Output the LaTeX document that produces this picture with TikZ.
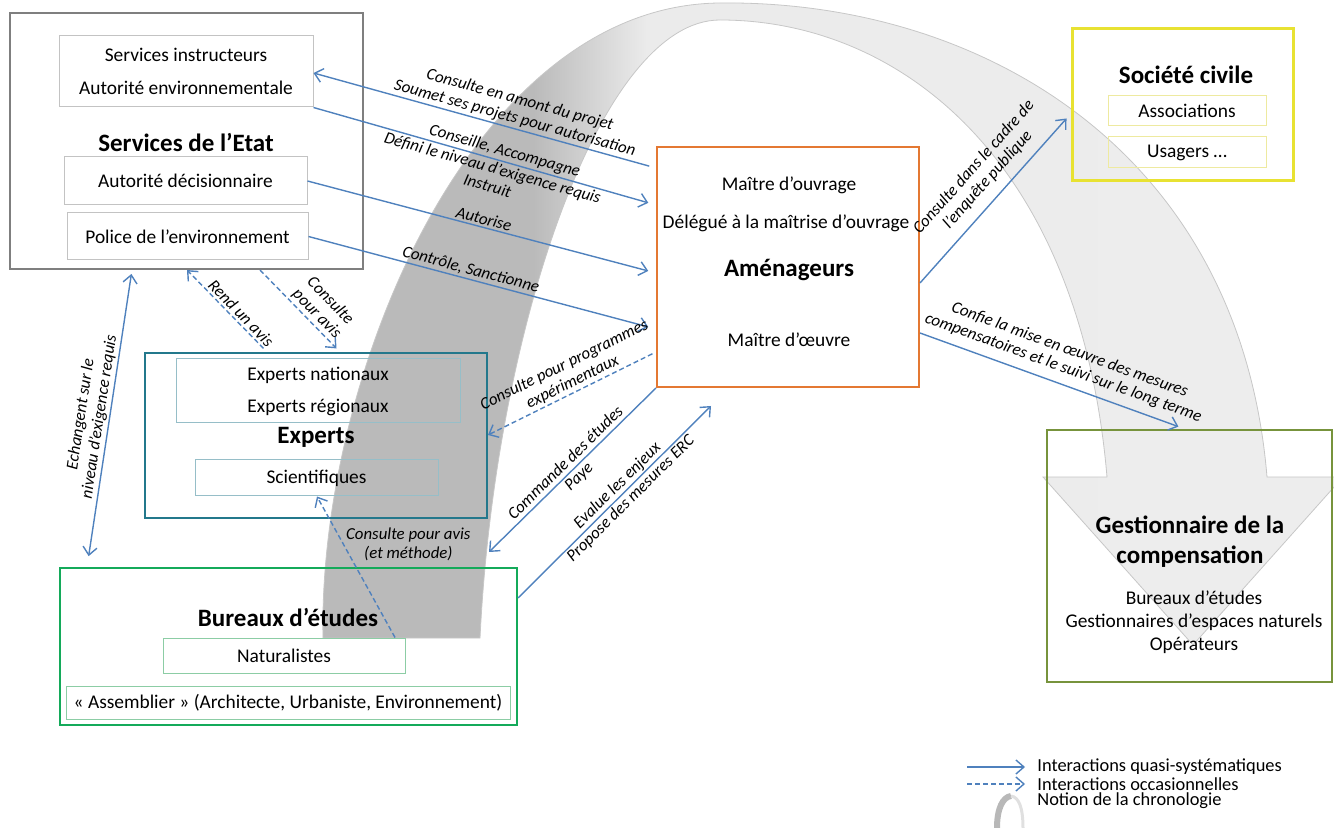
\documentclass[tikz,border=0pt]{standalone}
\usepackage{fontspec}
\setmainfont{Carlito}
\usetikzlibrary{fit}
\usetikzlibrary{arrows.meta}

\definecolor{grisetat}{RGB}{127,127,127}
\definecolor{grisclair}{RGB}{195,195,195}
\definecolor{orangeam}{RGB}{228,120,50}
\definecolor{jaunesoc}{RGB}{232,226,50}
\definecolor{jaunepale}{RGB}{238,234,160}
\definecolor{bleuexp}{RGB}{35,120,140}
\definecolor{bleupale}{RGB}{150,190,200}
\definecolor{vertbur}{RGB}{20,170,90}
\definecolor{vertpale}{RGB}{140,205,165}
\definecolor{vertgest}{RGB}{119,147,60}
\definecolor{bleulien}{RGB}{79,129,189}

\pgfdeclarehorizontalshading{chrono}{100bp}{color(0bp)=(black!27); color(35.5bp)=(black!27); color(41bp)=(black!8); color(100bp)=(black!6)}

\tikzset{
  >={Straight Barb[length=4pt,width=7pt]},
  cadre/.style={draw, line width=1pt, inner sep=0pt},
  sous/.style={draw, line width=0.5pt, inner sep=0pt, align=center,
    font=\fontsize{9.7}{11.6}\selectfont},
  texte/.style={font=\fontsize{9.7}{11.6}\selectfont, align=center},
  titre/.style={font=\fontsize{12.5}{15}\selectfont\bfseries, align=center},
  lien/.style={draw=bleulien, line width=0.7pt, ->},
  occas/.style={lien, dash pattern=on 2.5pt off 1.5pt},
  etiqh/.style={font=\fontsize{8.4}{9.4}\selectfont\itshape, align=center, inner sep=1pt},
  etiq/.style={etiqh, sloped},
}

\begin{document}
\begin{tikzpicture}[x=0.5pt, y=-0.5pt]
\useasboundingbox (0,0) rectangle (1334,828);

% ruban de la chronologie
\begin{scope}
  \clip (0,0) rectangle (1334,828);
  \shadedraw[shading=chrono, draw=black!22, line width=0.4pt]
    (323,638) .. controls (318,380) and (470,5) .. (720,3)
    .. controls (980,0) and (1240,150) .. (1267,477)
    -- (1343,477) -- (1193,645) -- (1043,477) -- (1107,477)
    .. controls (1080,160) and (900,20) .. (720,20)
    .. controls (600,20) and (495,330) .. (480,638) -- cycle;
\end{scope}

% Services de l'Etat
\node[cadre, draw=grisetat, fit={(10,13) (363,269)}] (etat) {};
\node[sous, draw=grisclair, minimum width=127pt, minimum height=35.5pt] (sinst) at (186,71.5) {Services instructeurs\\[4.9pt]Autorité environnementale};
\node[titre] (tetat) at (186,143) {Services de l’Etat};
\node[sous, draw=grisclair, minimum width=121.5pt, minimum height=24pt] (sdec) at (185.5,181) {Autorité décisionnaire};
\node[sous, draw=grisclair, minimum width=120.5pt, minimum height=23.5pt] (spol) at (187.5,236.5) {Police de l’environnement};

% Amenageurs
\node[cadre, draw=orangeam, fit={(657,147) (919,387)}] (amen) {};
\node[texte] (mo) at (789,185) {Maître d’ouvrage};
\node[texte] (dmo) at (786,223) {Délégué à la maîtrise d’ouvrage};
\node[titre] (tamen) at (789,270) {Aménageurs};
\node[texte] (moe) at (789,340) {Maître d’œuvre};

% Societe civile
\node[cadre, draw=jaunesoc, line width=1.5pt, fit={(1072,29) (1293,181)}] (soc) {};
\node[titre] (tsoc) at (1186,75) {Société civile};
\node[sous, draw=jaunepale, minimum width=79pt, minimum height=15pt] (asso) at (1187,111) {Associations};
\node[sous, draw=jaunepale, minimum width=79pt, minimum height=15.5pt] (usag) at (1187,152.5) {Usagers …};

% Experts
\node[cadre, draw=bleuexp, fit={(145,353) (487,518)}] (exp) {};
\node[sous, draw=bleupale, minimum width=142pt, minimum height=32pt] (expnr) at (318,391) {Experts nationaux\\[4.4pt]Experts régionaux};
\node[titre] (texp) at (316,437) {Experts};
\node[sous, draw=bleupale, minimum width=121.5pt, minimum height=18pt] (sci) at (316.5,478) {Scientifiques};

% Bureaux d'etudes
\node[cadre, draw=vertbur, fit={(60,568) (517,725)}] (bur) {};
\node[titre] (tbur) at (288,617) {Bureaux d’études};
\node[sous, draw=vertpale, minimum width=121pt, minimum height=17.5pt] (nat) at (284,655.5) {Naturalistes};
\node[sous, draw=vertpale, minimum width=222pt, minimum height=16.5pt] (assem) at (288,702.5) {« Assemblier » (Architecte, Urbaniste, Environnement)};

% Gestionnaire de la compensation
\node[cadre, draw=vertgest, fit={(1047,430) (1332,682)}] (gest) {};
\node[titre] (tgest) at (1190,542) {Gestionnaire de la\\compensation};
\node[texte] (lgest) at (1194,622) {Bureaux d’études\\Gestionnaires d’espaces naturels\\Opérateurs};

% interactions
\draw[lien, shorten <=3.5pt] (amen.west |- 0,168) -- node[etiq, above, pos=0.42] (e1) {Consulte en amont du projet\\Soumet ses projets pour autorisation} (sinst.east |- 0,73);
\draw[lien, shorten >=4pt] (sinst.south east) -- node[etiq, above, pos=0.55] (e2a) {Conseille, Accompagne} node[etiq, below, pos=0.53] (e2b) {Défini le niveau d’exigence requis\\Instruit} (amen.west |- 0,205);
\draw[lien, shorten >=4pt] (sdec.east) -- node[etiq, above, pos=0.5] (e3) {Autorise} (amen.west |- 0,273);
\draw[lien, shorten >=4pt] (spol.east) -- node[etiq, above, pos=0.46] (e4) {Contrôle, Sanctionne} (amen.west |- 0,329);
\draw[lien, shorten >=3pt] (amen.east |- 0,283) -- node[etiq, above=4pt, pos=0.54] (e5) {Consulte dans le cadre de\\l’enquête publique} (soc.west |- 0,114);
\draw[lien, shorten >=3.5pt] (amen.east |- 0,333) -- node[etiq, above=3pt, pos=0.52] (e6) {Confie la mise en œuvre des mesures\\compensatoires et le suivi sur le long terme} (gest.north -| 1185,0);
\draw[occas, shorten <=2pt] (amen.west |- 0,352) -- node[etiq, above, pos=0.47] (e7) {Consulte pour programmes\\expérimentaux} (exp.east |- 0,435);
\draw[lien] (amen.south west) -- node[etiq, pos=0.5] (e8) {Commande des études\\Paye} ([xshift=-14.5pt,yshift=7.5pt]bur.north east);
\draw[lien] (bur.east |- 0,598) -- node[etiq, pos=0.55] (e9) {Evalue les enjeux\\Propose des mesures ERC} ([xshift=27.5pt,yshift=-9pt]amen.south west);
\draw[occas, shorten <=2.5pt] (exp.north -| 267,0) -- node[etiq, above, pos=0.4] (e10) {Rend un avis} (etat.south -| 187,0);
\draw[occas, shorten >=2.5pt] (etat.south -| 260,0) -- node[etiq, above, pos=0.62] (e11) {Consulte\\pour avis} (exp.north -| 340,0);
\draw[lien, <->, shorten <=2pt, shorten >=5.5pt] (etat.south -| 132,0) -- node[etiq, above, pos=0.5] (e12) {Echangent sur le\\niveau d’exigence requis} (bur.north -| 87,0);
\draw[occas] (nat.north -| 395,0) -- node[etiqh, right, pos=0.66] (e13) {Consulte pour avis\\(et méthode)} (sci.south -| 317,0);

% legende
\node[texte, font=\fontsize{9.2}{10}\selectfont, anchor=west, inner sep=0pt] (leg1) at (1037,767) {Interactions quasi-systématiques};
\node[texte, font=\fontsize{9.2}{10}\selectfont, anchor=west, inner sep=0pt] (leg2) at (1037,784) {Interactions occasionnelles};
\node[texte, font=\fontsize{9.2}{10}\selectfont, anchor=west, inner sep=0pt] (leg3) at (1037,801) {Notion de la chronologie};
\draw[lien, shorten >=6pt] ([xshift=-35pt]leg1.west) -- (leg1.west);
\draw[occas, shorten >=6pt] ([xshift=-35pt]leg2.west) -- (leg2.west);
\draw[line width=3pt, black!28] (997,828) .. controls (997,808) and (1003,797) .. (1011,796);
\draw[line width=1.5pt, black!12] (1011,796) .. controls (1019,797) and (1023,808) .. (1023,828);
\end{tikzpicture}
\end{document}
